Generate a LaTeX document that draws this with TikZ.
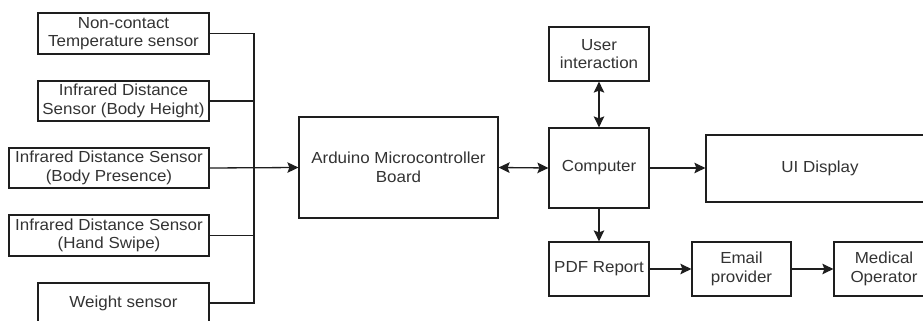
\documentclass[tikz,border=0pt]{standalone}
\usepackage{fontspec}
\setmainfont{Liberation Sans}[FakeStretch=1.06]
\usetikzlibrary{arrows.meta}
\definecolor{linec}{HTML}{1E1E1E}
\definecolor{textc}{HTML}{333333}
\tikzset{
  blk/.style={draw=linec, line width=1.2pt, fill=white, align=center, text=textc,
    inner sep=0pt, font=\fontsize{16}{18.5}\selectfont},
  conn/.style={draw=linec, line width=1.3pt},
  tip/.tip={Stealth[length=11pt,width=10.5pt,inset=2pt]},
  arr/.style={conn, -tip},
  darr/.style={conn, tip-tip},
}
\begin{document}
\begin{tikzpicture}[x=1pt,y=-1pt]
\useasboundingbox (0,0) rectangle (923,321);
\fill[white] (0,0) rectangle (923,321);
\clip (0,0) rectangle (923,321);
% sensors
\node[blk, minimum width=171pt, minimum height=41pt] (nc) at (123.5,33.5) {Non-contact\\Temperature sensor};
\node[blk, minimum width=171pt, minimum height=40pt] (bh) at (123.5,101) {Infrared Distance\\Sensor (Body Height)};
\node[blk, minimum width=200pt, minimum height=40pt] (bp) at (109,168) {Infrared Distance Sensor\\(Body Presence)};
\node[blk, minimum width=200pt, minimum height=41pt] (hs) at (109,235.5) {Infrared Distance Sensor\\(Hand Swipe)};
\node[blk, minimum width=171pt, minimum height=40pt] (ws) at (123.5,303) {Weight sensor};
% main
\node[blk, minimum width=199pt, minimum height=101pt] (ard) at (398.5,167.5) {Arduino Microcontroller\\Board};
\node[blk, minimum width=100pt, minimum height=80pt] (comp) at (599,168) {Computer};
\node[blk, minimum width=100pt, minimum height=54pt] (ui) at (599,54) {User\\interaction};
\node[blk, minimum width=228pt, minimum height=67pt] (disp) at (820,168.5) {UI Display};
\node[blk, minimum width=100pt, minimum height=54pt] (pdf) at (599,269) {PDF Report};
\node[blk, minimum width=99pt, minimum height=54pt] (email) at (741.5,269) {Email\\provider};
\node[blk, minimum width=100pt, minimum height=54pt] (med) at (884,269) {Medical\\Operator};
% bus
\coordinate (bus) at (254,168);
\draw[conn] (nc.east) -| (bus);
\draw[conn] (bh.east) -| (bus);
\draw[conn] (hs.east) -| (bus);
\draw[conn] (ws.east) -| (bus);
\draw[arr] (bp.east) -- (ard.west);
% right side
\draw[darr] (ard.east) -- (comp.west);
\draw[darr] (ui.south) -- (comp.north);
\draw[arr] (comp.east) -- (comp.east -| disp.west);
\draw[arr] (comp.south) -- (pdf.north);
\draw[arr] (pdf.east) -- (email.west);
\draw[arr] (email.east) -- (med.west);
\end{tikzpicture}
\end{document}
